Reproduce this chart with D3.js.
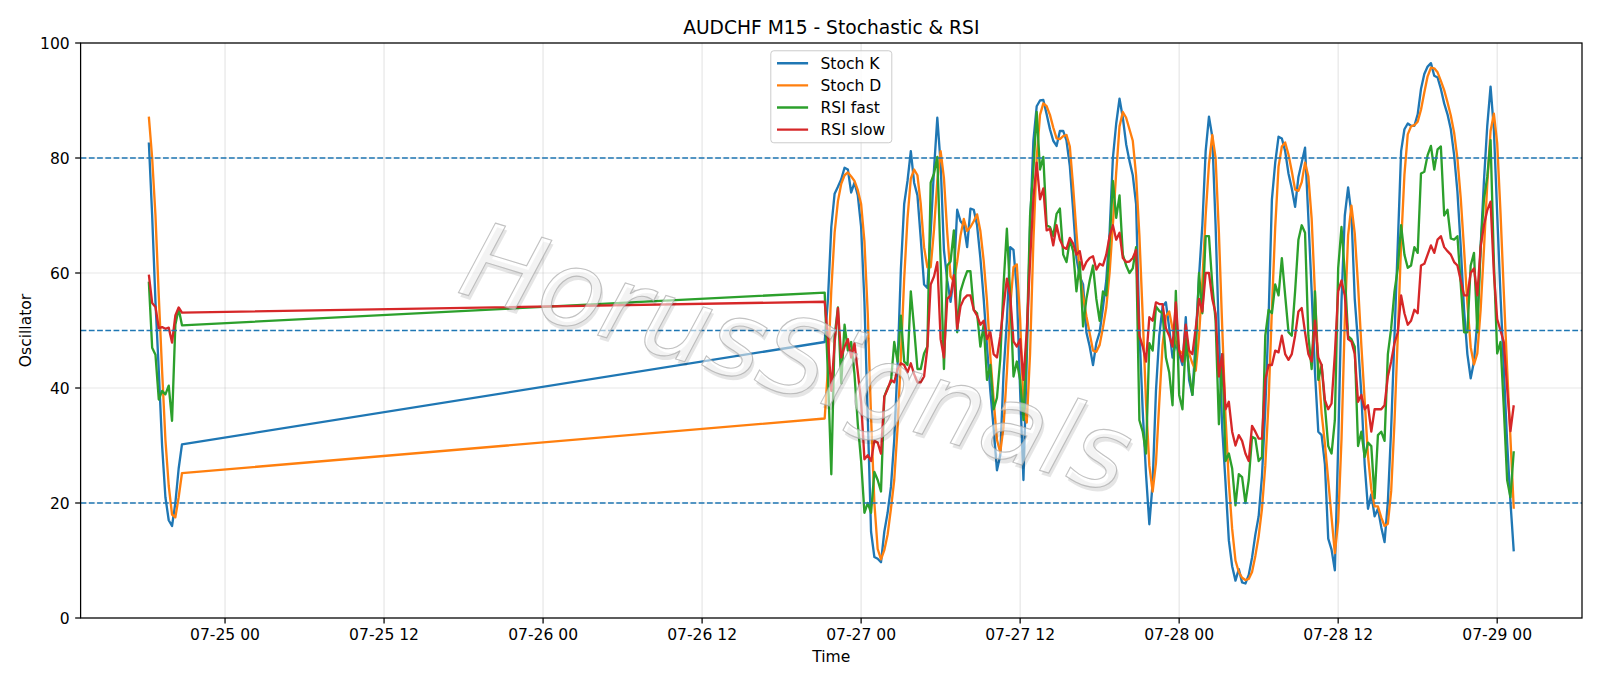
<!DOCTYPE html>
<html>
<head>
<meta charset="utf-8">
<script src="https://cdn.jsdelivr.net/npm/d3@7"></script>
<style>
  body { margin: 0; background: #fff; }
  svg { display: block; }
  text { font-family: "DejaVu Sans", sans-serif; }
</style>
</head>
<body>
<script>
// Set up size (figure is 1600x686, one pt is about 1.555 px here)
var width = 1600;
var height = 686;
var pt = 1.555;
var margin = {top: 43, right: 18, bottom: 68, left: 80.6};
var plotW = width - margin.left - margin.right;
var plotH = height - margin.top - margin.bottom;

// M15 bars: Friday evening, then Sunday open onwards (weekend gap is simply joined by the line)
var seg1Start = new Date(Date.UTC(2020, 6, 24, 18, 15));
var seg1Stop = new Date(Date.UTC(2020, 6, 24, 21, 0));
var seg2Start = new Date(Date.UTC(2020, 6, 26, 21, 15));
var seg2Stop = new Date(Date.UTC(2020, 6, 29, 1, 30));

var yTicks = [0, 20, 40, 60, 80, 100];
var levels = [80, 50, 20];

var stochK = [
  82.7, 70, 55, 43, 30, 21, 17, 16, 20, 26, 30.2,
  48, 55.5, 68, 73.8, 75, 76.3, 78.3, 78, 74, 75.7,
  73.5, 68, 55, 35, 15, 10.6, 10.3, 9.7, 15, 18.3,
  22.8, 31, 44, 60.6, 72, 76, 81.2, 75.7, 73.5, 66,
  58, 57.4, 67, 78, 87, 79, 64, 58.7, 55, 59.4,
  71, 69, 68.3, 64.5, 71.2, 71, 68.3, 62.6, 55.5, 47.2,
  39.5, 33, 25.7, 28.3, 42.7, 51.7, 64.5, 64, 57, 39.5,
  24, 45, 68, 83, 89, 90, 90.1, 87.6, 85, 83,
  82.1, 84.7, 84.7, 83, 78.6, 70.9, 62.6, 59.4, 58, 49.7,
  47.2, 44, 47.8, 49.7, 54, 58.7, 67, 80, 86, 90.3,
  87, 82.4, 79.5, 77, 72, 50, 36, 25, 16.3, 23.5,
  39.5, 49.1, 54.2, 54.9, 50.4, 45.3, 47.8, 45.9, 44, 52.3,
  41.4, 38.8, 48.5, 59.4, 68.3, 81.2, 87.2, 83.7, 68.3, 49.1,
  33, 23.5, 13.5, 9, 6.5, 8.5, 6.2, 6, 7.5, 10.5,
  14.5, 17.7, 24.7, 36.3, 52.3, 72.8, 79.2, 83.7, 83.4, 81.2,
  77.3, 74.7, 71.5, 76.7, 79.2, 81.8, 69.6, 56.8, 42.7, 32.4,
  31.8, 26.7, 13.8, 11.9, 8.3, 30, 55, 70, 74.9, 70.3,
  55.5, 47.8, 38.8, 26.7, 19, 21.5, 17.7, 19, 15.8, 13.2,
  20.2, 33, 49.1, 65.1, 81.2, 85, 86, 85.6, 85.6, 87.6,
  92, 94.6, 95.9, 96.5, 94.3, 94, 92, 89.5, 87.6, 85,
  80.5, 74.1, 64.5, 53.6, 45.9, 41.7, 44.6, 51.7, 64.5, 76,
  85.6, 92.4, 85, 70.3, 56.1, 43.3, 30.5, 20.2, 11.6
];

var stochD = [
  87.2, 80, 70, 56, 43, 31, 23, 18, 17.5, 21, 25.2,
  34.7, 43.5, 57, 67, 72.5, 75.5, 77, 77.5, 76.8, 76,
  74.4, 72, 65.5, 53, 35, 20, 12, 10.2, 11.8, 14.5,
  19, 24, 33, 45.5, 59, 69.5, 76.4, 78, 77, 72,
  64.5, 61, 61, 67.5, 76, 81.2, 76.5, 67, 59.4, 58.5,
  62, 66.5, 69.4, 67.3, 68, 69, 70.2, 67.3, 62.1, 55.1,
  45.5, 38, 31, 28.8, 33.3, 42.7, 54.2, 61, 61.5, 52,
  37, 34, 46, 65.5, 80, 87.5, 89.5, 89, 87.5, 85.3,
  83.4, 83.3, 83.8, 84, 82, 75, 67, 60, 56, 52.5,
  49.5, 46.5, 46.3, 47.5, 50.5, 54, 60, 68.5, 77.5, 85.5,
  88, 87, 85, 83, 77, 66.5, 52.5, 37.5, 26.5, 22,
  27, 37.5, 47.5, 52.5, 53.3, 50.3, 48, 46.5, 46, 47.5,
  46, 44.3, 43, 49, 58.5, 70, 79, 84, 80, 67,
  50.5, 35, 23.5, 15.5, 10, 8, 7, 6.6, 6.8, 8,
  10.8, 14.2, 19, 26.5, 37.7, 53.8, 68, 78.5, 82, 82.7,
  80.6, 77.7, 74.5, 74.3, 75.8, 79.2, 76.8, 69.4, 56.3, 44,
  35.6, 30.3, 24, 17.5, 11.3, 16.7, 31, 51.7, 66.6, 71.7,
  66.9, 57.9, 47.4, 37.8, 28.2, 22.4, 19.4, 19.4, 17.5, 16,
  16.4, 22.1, 34.1, 49.1, 65.1, 77.1, 84.1, 85.5, 85.7, 86.3,
  88.4, 91.4, 94.2, 95.7, 95.6, 94.9, 93.4, 91.8, 89.7, 87.4,
  84.4, 79.9, 73, 64.1, 54.7, 47.1, 44.1, 46, 53.6, 64.1,
  75.4, 84.7, 87.7, 82.6, 70.5, 56.6, 43.3, 31.3, 19
];

var rsiFast = [
  58.5, 47, 45.8, 38, 39.5, 38.9, 40.4, 34.3, 51, 53.8, 50.9,
  56.6, 42, 25, 49, 54, 40.8, 51, 46.5, 48, 42.4,
  33.7, 27.3, 18.3, 20, 18.3, 25.4, 24, 22, 38.5, 40,
  41, 48, 44.6, 52.6, 44.6, 44, 56.8, 50.4, 43.3, 43.3,
  46, 47.2, 75.7, 77.3, 80.2, 62, 43.3, 61.3, 62, 67.4,
  49.7, 56.8, 58.7, 60.3, 60.3, 53.6, 53, 47.2, 51, 41.4,
  44, 36.3, 38.3, 45, 58, 67.7, 56.1, 42, 44.6, 41.4,
  34.4, 48, 70, 78, 88, 78, 80.2, 68.3, 68, 66.4,
  70.3, 71.2, 63.2, 61.9, 65.8, 63.8, 56.8, 61.9, 50.7, 55.5,
  58.7, 61.3, 55.5, 51.7, 56.8, 56.1, 65.1, 76, 69.6, 73.5,
  63.2, 61.3, 60, 60.8, 64.5, 34.4, 32.4, 28.6, 47.8, 46.5,
  54.2, 53.4, 53, 45.3, 42.7, 37, 56.9, 38.8, 36.3, 48.5,
  42.7, 38.8, 45.9, 60, 53, 66.4, 66.4, 58, 51.7, 33.7,
  45.9, 27.3, 28.6, 26, 19.6, 25, 24.5, 20, 24, 31.5,
  31.2, 27.3, 28, 49.1, 53.6, 53, 58, 56.1, 62.6, 56.1,
  49.7, 49.1, 56.8, 65.8, 68.3, 67, 49.1, 43.3, 56.8, 41.4,
  44, 36.9, 29.9, 28.6, 34.4, 60.8, 68, 60, 49, 48.5,
  47.2, 29.9, 32.4, 28, 30.5, 29.9, 20.8, 31.8, 32.4, 30.8,
  45.9, 50.4, 56.8, 60.8, 68.3, 63.2, 60.9, 61.3, 64.5, 63.5,
  77.3, 77.6, 80.5, 82.1, 78, 81.5, 82, 70, 71, 66,
  65.8, 66.4, 58, 49.7, 49.7, 61.3, 63.5, 49.7, 64.5, 72.8,
  76.7, 83.1, 62, 46, 48, 36.5, 24, 21, 29
];

var rsiSlow = [
  59.7, 54.8, 54.1, 50.4, 50.6, 50.3, 50.5, 47.9, 52.6, 54, 53.1,
  55, 48.5, 39.5, 47.8, 53.9, 45.3, 47.2, 48.5, 45.3, 47.8,
  42.7, 37.6, 27.6, 28.3, 27.3, 30.8, 30.5, 28.6, 38.5, 39.8,
  41.4, 41, 43.3, 44.3, 44, 42.7, 44.3, 42.4, 41, 41,
  42, 47, 58, 59.4, 61.9, 48.5, 45.3, 55.5, 56.1, 59.6,
  50.3, 54.2, 55.5, 56.1, 56.1, 53.6, 52.6, 51, 51.7, 48.5,
  49.7, 45.9, 45.3, 49, 54.2, 59, 56.1, 48.1, 47.2, 48.5,
  41.4, 50, 62, 73, 79.2, 72.8, 74.7, 67.4, 67.7, 64.8,
  68.3, 65.8, 64.5, 64.2, 66.1, 65.1, 63.2, 63.8, 60.6, 61.9,
  62.6, 62.9, 60.6, 61.6, 61.3, 63.2, 66.4, 68.3, 65.8, 67,
  62.6, 61.9, 62, 62.6, 64, 49.1, 47.2, 44.6, 52.3, 51.7,
  54.9, 54.6, 54.6, 50.4, 49.1, 47.2, 54.9, 46.5, 44.6, 51,
  46.5, 45.9, 50.4, 55.5, 53.3, 60, 60, 55.5, 53, 42,
  45.9, 36.3, 37.6, 32.4, 30, 31.8, 30.8, 28.6, 27.3, 33.4,
  32.4, 31.2, 31.2, 41.4, 44, 44, 46.5, 46.2, 49.1, 45.9,
  44.9, 45.9, 49.1, 53.3, 53.9, 49.7, 45.9, 44.6, 51.7, 45.3,
  44, 37.9, 36.3, 37.3, 45.9, 56.8, 58.7, 56.1, 48.5, 48.1,
  45.9, 37.6, 38.8, 36.3, 37, 32.4, 36.3, 36.3, 36.3, 37,
  42, 44.6, 47.8, 49.7, 56.1, 53, 51, 51.7, 53.6, 53,
  61.3, 61.6, 63.2, 64.8, 63.5, 65.8, 66.4, 64.5, 63.8, 63.2,
  61.9, 61.3, 58.7, 56.1, 56.1, 60, 60.8, 56.1, 64.5, 68.3,
  70.9, 72.4, 60, 52, 50, 48, 40, 32.5, 37
];

var seriesNames = ["Stoch K", "Stoch D", "RSI fast", "RSI slow"];
var seriesColors = ["#1f77b4", "#ff7f0e", "#2ca02c", "#d62728"];
var seriesValues = [stochK, stochD, rsiFast, rsiSlow];

// bar times from d3's own 15 minute interval
var bar = d3.utcMinute.every(15);
var times = bar.range(seg1Start, seg1Stop).concat(bar.range(seg2Start, seg2Stop));

var svg = d3.select("body").append("svg")
  .attr("width", width)
  .attr("height", height);

// matplotlib style 5% margin on the time axis
var tExt = d3.extent(times);
var pad = (tExt[1] - tExt[0]) * 0.05;
var x = d3.scaleUtc()
  .domain([new Date(+tExt[0] - pad), new Date(+tExt[1] + pad)])
  .range([margin.left, margin.left + plotW]);
var y = d3.scaleLinear()
  .domain([0, 100])
  .range([margin.top + plotH, margin.top]);

var xTicks = x.ticks(d3.utcHour.every(12));
var fmt = d3.utcFormat("%m-%d %H");

// grid
var grid = svg.append("g").attr("stroke", "#b0b0b0").attr("stroke-opacity", 0.3).attr("stroke-width", 0.8 * pt);
grid.selectAll(".gx").data(xTicks).enter().append("line")
  .attr("x1", function (d) { return x(d); }).attr("x2", function (d) { return x(d); })
  .attr("y1", margin.top).attr("y2", margin.top + plotH);
grid.selectAll(".gy").data(yTicks).enter().append("line")
  .attr("x1", margin.left).attr("x2", margin.left + plotW)
  .attr("y1", function (d) { return y(d); }).attr("y2", function (d) { return y(d); });

// series lines
var line = d3.line()
  .x(function (d) { return x(d.t); })
  .y(function (d) { return y(d.v); });

seriesValues.forEach(function (vals, i) {
  var pts = vals.map(function (v, j) { return {t: times[j], v: v}; });
  svg.append("path")
    .datum(pts)
    .attr("fill", "none")
    .attr("stroke", seriesColors[i])
    .attr("stroke-width", 1.5 * pt)
    .attr("stroke-linejoin", "round")
    .attr("d", line);
});

// 80 / 50 / 20 levels
svg.selectAll(".lvl").data(levels).enter().append("line")
  .attr("x1", margin.left).attr("x2", margin.left + plotW)
  .attr("y1", function (d) { return y(d); }).attr("y2", function (d) { return y(d); })
  .attr("stroke", "#1f77b4")
  .attr("stroke-width", 1 * pt)
  .attr("stroke-dasharray", (3.7 * pt) + "," + (1.6 * pt));

// watermark: light outline over a soft drop shadow
var wm = svg.append("g")
  .attr("transform", "translate(797,358) rotate(17)")
  .attr("font-size", 106)
  .attr("font-style", "italic")
  .attr("text-anchor", "middle")
  .attr("dominant-baseline", "central");
wm.append("text")
  .attr("x", 3).attr("y", 3.5)
  .attr("fill", "#000").attr("fill-opacity", 0.1)
  .text("HorusSignals");
wm.append("text")
  .attr("fill", "#fff").attr("fill-opacity", 0.55)
  .attr("stroke", "#a8a8a8").attr("stroke-opacity", 0.7).attr("stroke-width", 1.1)
  .text("HorusSignals");

// frame
svg.append("rect")
  .attr("x", margin.left).attr("y", margin.top)
  .attr("width", plotW).attr("height", plotH)
  .attr("fill", "none").attr("stroke", "#000").attr("stroke-width", 0.8 * pt);

// ticks and labels
var tickLen = 3.5 * pt;
var fs = 10 * pt;
var xg = svg.append("g");
xg.selectAll("line").data(xTicks).enter().append("line")
  .attr("x1", function (d) { return x(d); }).attr("x2", function (d) { return x(d); })
  .attr("y1", margin.top + plotH).attr("y2", margin.top + plotH + tickLen)
  .attr("stroke", "#000").attr("stroke-width", 0.8 * pt);
xg.selectAll("text").data(xTicks).enter().append("text")
  .attr("x", function (d) { return x(d); })
  .attr("y", margin.top + plotH + 21.5)
  .attr("text-anchor", "middle")
  .attr("font-size", fs)
  .text(function (d) { return fmt(d); });

var yg = svg.append("g");
yg.selectAll("line").data(yTicks).enter().append("line")
  .attr("x1", margin.left - tickLen).attr("x2", margin.left)
  .attr("y1", function (d) { return y(d); }).attr("y2", function (d) { return y(d); })
  .attr("stroke", "#000").attr("stroke-width", 0.8 * pt);
yg.selectAll("text").data(yTicks).enter().append("text")
  .attr("x", margin.left - 2 * tickLen)
  .attr("y", function (d) { return y(d) + 5.7; })
  .attr("text-anchor", "end")
  .attr("font-size", fs)
  .text(function (d) { return d; });

svg.append("text")
  .attr("x", margin.left + plotW / 2).attr("y", 33.5)
  .attr("text-anchor", "middle").attr("font-size", 12 * pt)
  .text("AUDCHF M15 - Stochastic & RSI");
svg.append("text")
  .attr("x", margin.left + plotW / 2).attr("y", 662)
  .attr("text-anchor", "middle").attr("font-size", fs)
  .text("Time");
svg.append("text")
  .attr("transform", "translate(31," + (margin.top + plotH / 2) + ") rotate(-90)")
  .attr("text-anchor", "middle").attr("font-size", fs)
  .text("Oscillator");

// legend, upper center
var legW = 121, legH = 92, rowH = 22.1;
var legX = margin.left + plotW / 2 - legW / 2;
var legY = margin.top + 0.5 * fs;
var leg = svg.append("g").attr("transform", "translate(" + legX + "," + legY + ")");
leg.append("rect")
  .attr("width", legW).attr("height", legH).attr("rx", 3)
  .attr("fill", "#fff").attr("fill-opacity", 0.8)
  .attr("stroke", "#cccccc").attr("stroke-width", 1);
var rows = leg.selectAll(".row").data(seriesNames).enter().append("g")
  .attr("transform", function (d, i) { return "translate(0," + (12.5 + i * rowH) + ")"; });
rows.append("line")
  .attr("x1", 6.2).attr("x2", 37.3).attr("y1", 0).attr("y2", 0)
  .attr("stroke", function (d, i) { return seriesColors[i]; })
  .attr("stroke-width", 1.5 * pt);
rows.append("text")
  .attr("x", 49.7).attr("y", 5.7)
  .attr("font-size", fs)
  .text(function (d) { return d; });
</script>
</body>
</html>
